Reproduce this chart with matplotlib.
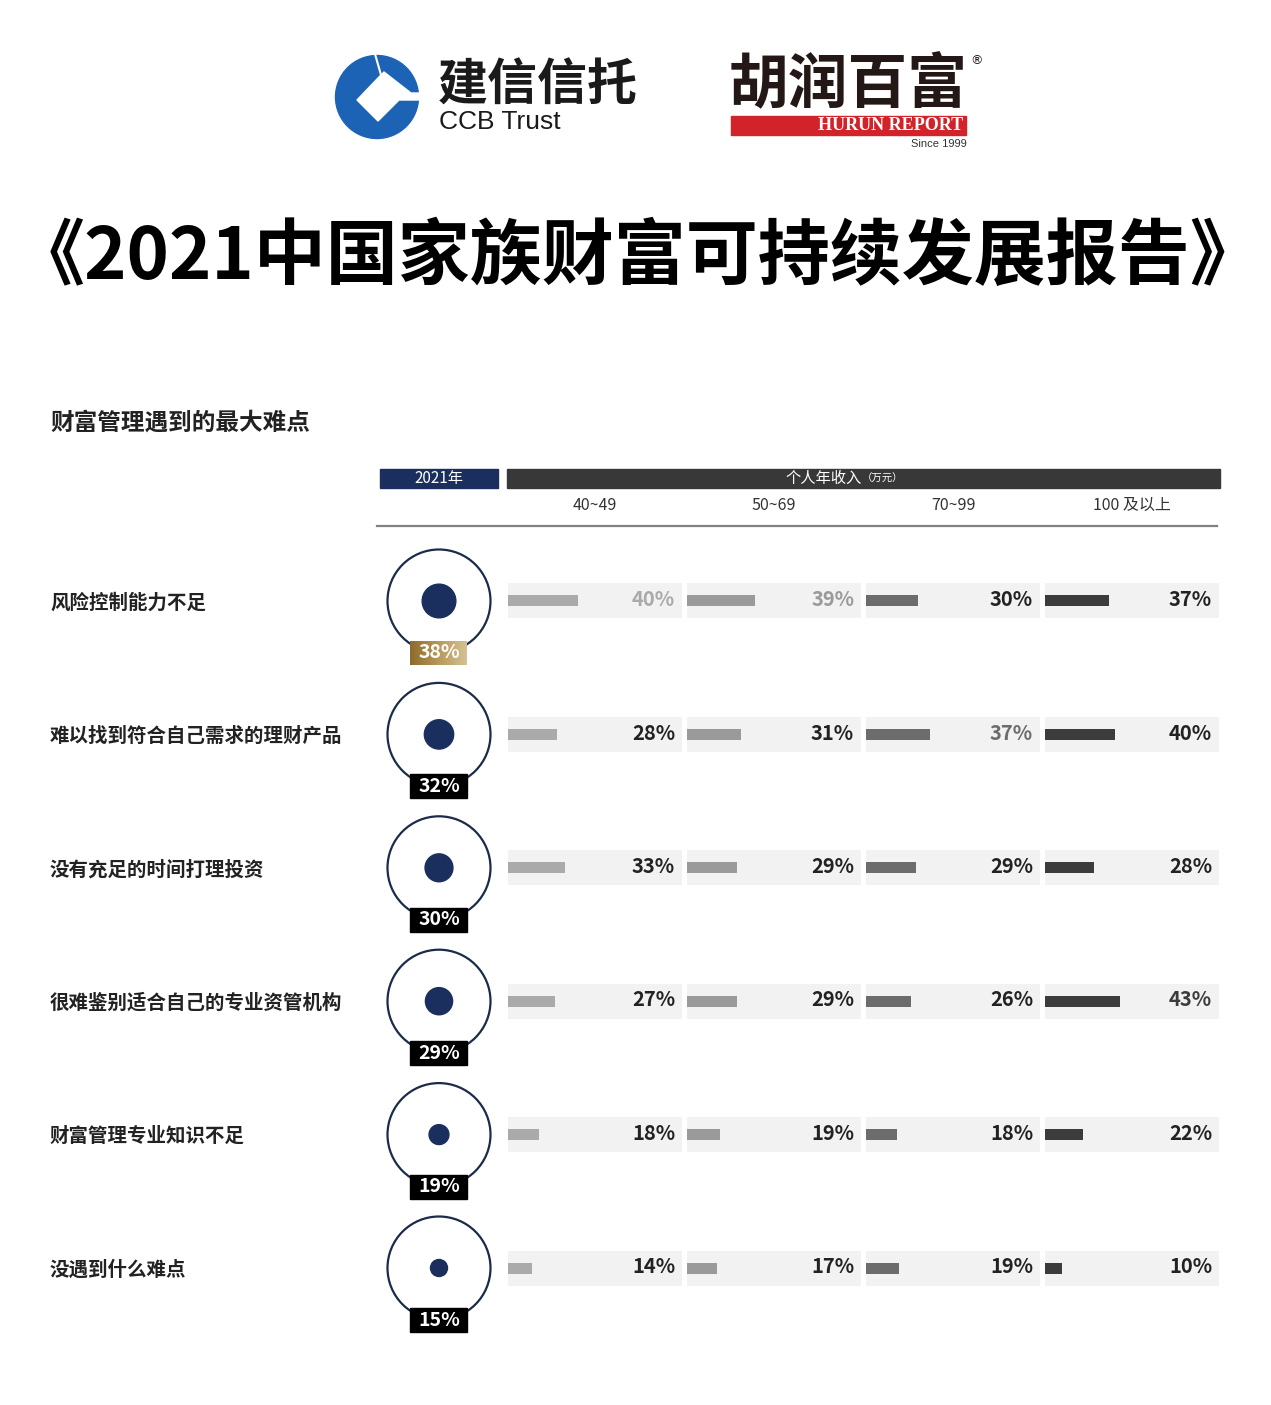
import matplotlib
matplotlib.use('Agg')
import matplotlib.pyplot as plt
from matplotlib.patches import Circle, Rectangle, Polygon
import numpy as np

plt.rcParams['font.family'] = ['Noto Sans CJK SC', 'DejaVu Sans']

# ---- data ----
title = '《2021中国家族财富可持续发展报告》'
section_title = '财富管理遇到的最大难点'
year_label = '2021年'
income_header = '个人年收入'
income_unit = '（万元）'
income_groups = ['40~49', '50~69', '70~99', '100 及以上']
difficulties = ['风险控制能力不足',
                '难以找到符合自己需求的理财产品',
                '没有充足的时间打理投资',
                '很难鉴别适合自己的专业资管机构',
                '财富管理专业知识不足',
                '没遇到什么难点']
overall = [38, 32, 30, 29, 19, 15]
by_income = np.array([[40, 39, 30, 37],
                      [28, 31, 37, 40],
                      [33, 29, 29, 28],
                      [27, 29, 26, 43],
                      [18, 19, 18, 22],
                      [14, 17, 19, 10]])

# ---- style ----
W, H = 1271, 1405
navy = '#1b2f5e'
ring = '#1c2b4a'
band = '#f2f2f2'
bar_colors = ['#aaaaaa', '#9a9a9a', '#6c6c6c', '#3c3c3c']
text_dark = '#222222'

row_y0, row_step = 601, 133.4
col_left0, col_step, col_w = 508, 179, 174

fig = plt.figure(figsize=(W / 100, H / 100), dpi=100)
bg = fig.add_axes([0, 0, 1, 1])
bg.set_xlim(0, W)
bg.set_ylim(H, 0)
bg.axis('off')

# ---- logos ----
ccb_blue = '#1d63b5'
bg.add_patch(Circle((377, 97), 41.5, color=ccb_blue, zorder=2))
bg.add_patch(Polygon([(357, 100), (378, 78), (384, 72), (411, 93), (421, 93), (421, 100),
                      (399, 100), (378, 121)], closed=True, color='white', zorder=3))
bg.plot([375, 381], [54, 75], color='white', lw=1.5, zorder=3, solid_capstyle='butt')
bg.text(438, 86, '建信信托', fontsize=36, fontweight='bold', color='#1a1a1a',
        ha='left', va='center')
bg.text(439, 122, 'CCB Trust', fontsize=19, color='#1a1a1a', ha='left', va='center',
        family=['Liberation Sans', 'DejaVu Sans'])

bg.text(848, 86, '胡润百富', fontsize=43, fontweight='heavy', color='#231815',
        ha='center', va='center')
bg.text(977, 61, '®', fontsize=9, color='#231815', ha='center', va='center',
        family=['DejaVu Sans'])
bg.add_patch(Rectangle((731, 116), 235, 19, color='#d2232a', zorder=2))
bg.text(963, 126, 'HURUN REPORT', fontsize=13, fontweight='bold', color='white',
        ha='right', va='center', family=['Liberation Serif', 'DejaVu Serif'], zorder=3)
bg.text(967, 144, 'Since 1999', fontsize=8, color='#333333', ha='right', va='center',
        family=['Liberation Sans', 'DejaVu Sans'])

# ---- big title, fitted to the reference width ----
t = bg.text(638, 258, title, fontsize=48, fontweight='heavy', color='black',
            ha='center', va='center')
fig.canvas.draw()
tw = t.get_window_extent(fig.canvas.get_renderer()).width
t.set_fontsize(48 * 1250 / tw)

bg.text(50, 423, section_title, fontsize=17, fontweight='bold', color=text_dark,
        ha='left', va='center')

# ---- table header ----
bg.add_patch(Rectangle((380, 469), 118, 19, color=navy))
bg.text(439, 478.5, year_label, fontsize=11, color='white', ha='center', va='center')
bg.add_patch(Rectangle((507, 469), 713, 19, color='#383838'))
bg.text(862, 478.5, income_header, fontsize=11, color='white', ha='right', va='center')
bg.text(862, 479, income_unit, fontsize=7.5, color='white', ha='left', va='center')
for j, g in enumerate(income_groups):
    cx = col_left0 + col_step * j + 87
    bg.text(cx, 505, g, fontsize=11.5, color='#333333', ha='center', va='center')
bg.plot([377, 1217], [526, 526], color='#808080', lw=1.6)

# ---- rows: labels and circles ----
top_row = int(np.argmax(overall))
for i, (lab, v) in enumerate(zip(difficulties, overall)):
    cy = row_y0 + row_step * i
    bg.text(50, cy + 2, lab, fontsize=14, fontweight='bold', color=text_dark,
            ha='left', va='center')
    bg.add_patch(Circle((439, cy), 51.5, facecolor='white', edgecolor=ring, lw=1.6, zorder=2))
    d = 6.1 + 0.726 * v
    bg.add_patch(Circle((439, cy), d / 2, color=navy, zorder=3))
    bx, by, bw, bh = 410, cy + 40, 57, 24
    if i == top_row:
        grad = np.linspace(0, 1, 64).reshape(1, -1)
        gold = matplotlib.colors.LinearSegmentedColormap.from_list(
            'gold', ['#8d6b2c', '#b8995a', '#d3c193'])
        bg.imshow(grad, cmap=gold, extent=(bx, bx + bw, by + bh, by), aspect='auto', zorder=4)
    else:
        bg.add_patch(Rectangle((bx, by), bw, bh, color='black', zorder=4))
    bg.text(439, by + bh / 2, f'{v}%', fontsize=14, fontweight='bold', color='white',
            ha='center', va='center', zorder=5)
bg.set_xlim(0, W)
bg.set_ylim(H, 0)

# ---- income columns ----
n = len(difficulties)
ax_top = row_y0 - row_step / 2
ax_h = row_step * n
col_max = by_income.argmax(axis=0)
rows = np.arange(n)
for j in range(len(income_groups)):
    left = col_left0 + col_step * j
    ax = fig.add_axes([left / W, 1 - (ax_top + ax_h) / H, col_w / W, ax_h / H])
    ax.set_xlim(0, 100)
    ax.set_ylim(n - 0.5, -0.5)
    ax.axis('off')
    ax.barh(rows, [100] * n, height=35 / row_step, color=band, left=0)
    ax.barh(rows, by_income[:, j], height=11 / row_step, color=bar_colors[j])
    for i in range(n):
        c = bar_colors[j] if i == col_max[j] else text_dark
        ax.text(96, i - 0.01, f'{by_income[i, j]}%', fontsize=14.5, fontweight='bold',
                color=c, ha='right', va='center')

fig.savefig('out.png', dpi=100, facecolor='white')
